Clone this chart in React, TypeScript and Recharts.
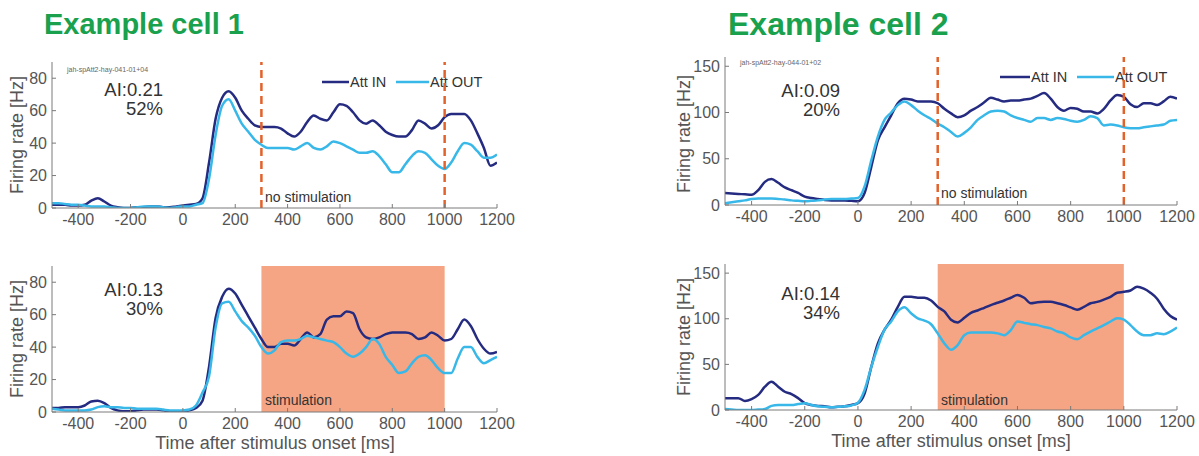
import React from 'react'
import { ComposedChart, Line, XAxis, YAxis, ReferenceLine, ReferenceArea } from 'recharts'

// time grid, ms after stimulus onset
const TIMES = [
  -500, -475, -450, -425, -400, -375, -350, -325, -300, -275,
  -250, -225, -200, -175, -150, -125, -100, -75, -50, -25,
  0, 25, 50, 75, 100, 125, 150, 175, 200, 225,
  250, 275, 300, 325, 350, 375, 400, 425, 450, 475,
  500, 525, 550, 575, 600, 625, 650, 675, 700, 725,
  750, 775, 800, 825, 850, 875, 900, 925, 950, 975,
  1000, 1025, 1050, 1075, 1100, 1125, 1150, 1175, 1200,
]

// cell 1, no stimulation
const cell1In = [
  2, 2, 2, 1.5, 1.5, 2, 4.5, 6, 4, 1.5,
  0.5, 0, 0, 0.5, 0.5, 1, 1, 0.5, 0.5, 1,
  1.5, 2, 2.5, 6, 28, 55, 68, 72, 68, 60,
  55, 51, 50, 50, 50, 49, 46, 44, 47, 53,
  57, 55, 54, 59, 64, 63, 59, 54, 52, 54,
  51, 47, 45, 44, 44, 48, 54, 52, 49, 51,
  56, 58, 58, 58, 54, 46, 37, 26, 28,
]
const cell1Out = [
  3, 3, 2.5, 2, 2, 1.5, 1, 1, 1, 0.5,
  0, 0, 0, 0.5, 1, 1, 1, 0.5, 0, 0.5,
  1, 1, 2, 3, 18, 45, 63, 67, 60, 52,
  47, 42, 39, 37, 37, 37, 37, 36, 38, 40,
  37, 36, 38, 41, 40, 38, 36, 34, 34, 35,
  32, 27, 22, 22, 27, 32, 35, 34, 30, 26,
  24, 28, 35, 40, 39, 35, 31, 31, 33,
]

// cell 1, stimulation
const cell1StimIn = [
  2.5, 2.5, 3, 3, 3, 4, 6.5, 7, 5.5, 2.5,
  1, 0.5, 0.5, 1, 1.5, 1.5, 1.5, 1, 0.5, 0.5,
  0.5, 1, 2.5, 7, 28, 58, 71, 76, 73, 66,
  59, 52, 45, 40, 40, 42, 42, 41, 45, 49,
  46, 48, 57, 59, 59, 62, 61, 51, 46, 45,
  46, 48, 49, 49, 49, 48, 45, 46, 49, 47,
  44, 45, 51, 57, 53, 45, 39, 36, 37,
]
const cell1StimOut = [
  2, 1.5, 1, 1, 1, 1, 1.5, 3, 3.5, 3,
  3, 2.5, 2.5, 2, 2, 2, 2, 1.5, 1, 1,
  1, 1.5, 4, 12, 22, 52, 67, 68, 62, 56,
  52, 47, 40, 36, 38, 43, 44, 44, 45, 47,
  46, 45, 44, 43, 40, 36, 34, 36, 40, 45,
  42, 34, 29, 24, 25, 30, 34, 35, 32, 27,
  24, 24, 33, 40, 40, 34, 30, 32, 34,
]

// cell 2, no stimulation
const cell2In = [
  13, 12.5, 12, 11.5, 11, 16, 25, 28, 24, 19,
  16, 13, 9, 7.5, 6.5, 5.5, 5, 5, 5, 4.5,
  4, 13, 41, 70, 84, 97, 110, 115, 114, 112,
  112, 112, 110, 104, 99, 95, 97, 102, 106, 111,
  116, 114, 112, 113, 113, 114, 115, 118, 121, 115,
  106, 102, 105, 104, 101, 101, 99, 104, 113, 119,
  117, 109, 106, 110, 110, 108, 112, 117, 115,
]
const cell2Out = [
  2, 3, 4, 5, 6.5, 7, 7, 7, 6.5, 6,
  5, 4.5, 4, 4.5, 5, 6, 6.5, 6.5, 6.5, 7,
  7.5, 20, 48, 74, 92, 100, 108, 112, 108, 102,
  97, 93, 88, 84, 79, 74, 78, 84, 92, 97,
  101, 102, 101, 97, 94, 92, 90, 94, 94, 92,
  94, 93, 91, 90, 92, 96, 94, 86, 87, 86,
  84, 83, 83, 84, 85, 86, 87, 91, 92,
]

// cell 2, stimulation
const cell2StimIn = [
  13, 13, 13, 10, 12, 16.5, 25.5, 31, 25.5, 20,
  17.5, 13, 7.5, 5.5, 4.5, 4, 3, 3.5, 4, 5.5,
  7.5, 18, 47, 73, 88, 99, 113, 124, 124, 123,
  123, 120, 113, 108, 99, 96, 101, 106.5, 109, 112,
  115, 117.5, 120, 123, 126, 123, 117, 118, 118.5, 118.5,
  117, 115, 112.5, 110, 113, 117, 118.5, 121, 124, 128.5,
  129.5, 131, 135, 133, 128.5, 122, 111, 103, 99,
]
const cell2StimOut = [
  1, 0.5, 0, 0, 0, 0.5, 1, 4.5, 5.5, 5.5,
  5.5, 6.5, 7.5, 5.5, 4, 3.5, 3, 3.5, 4, 5,
  8, 22, 47, 69, 88, 97, 108, 112.5, 106, 100.5,
  98, 94, 84, 73, 66, 71, 82, 85, 85, 85,
  85, 84, 82, 87.5, 97, 95.5, 94, 93, 91, 89.5,
  86, 84, 79.5, 77.5, 82, 86, 89.5, 93, 97, 100.5,
  99, 93, 86, 82, 82, 84, 83, 86, 90.5,
]

const X_TICKS = [-400, -200, 0, 200, 400, 600, 800, 1000, 1200]
const Y_TICKS_CELL1 = [0, 20, 40, 60, 80]
const Y_TICKS_CELL2 = [0, 50, 100, 150]

const FONT = '"Liberation Sans", Arial, Helvetica, sans-serif'
const IN_COLOR = '#242b80'
const OUT_COLOR = '#38b8e8'
const STIM_COLOR = '#f5a583'
const DASH_COLOR = '#e2622b'
const AXIS_COLOR = '#7a7a7a'
const TICK_TEXT = '#555'
const TITLE_GREEN = '#1aa14e'

function Panel({ left, top, width, height, marginTop, marginRight, yMax, yTicks, attIn, attOut, stimulated }: any) {
  const data = TIMES.map((t, i) => ({ t, attIn: attIn[i], attOut: attOut[i] }))
  return (
    <div style={{ position: 'absolute', left, top, zIndex: 1 }}>
      <ComposedChart
        width={width}
        height={height}
        data={data}
        margin={{ top: marginTop, right: marginRight, left: 0, bottom: 0 }}
      >
        {stimulated && (
          <ReferenceArea x1={300} x2={1000} y1={0} y2={yMax} fill={STIM_COLOR} fillOpacity={1} stroke="none" />
        )}
        <XAxis
          dataKey="t"
          type="number"
          domain={[-500, 1200]}
          ticks={X_TICKS}
          height={32}
          tickSize={-4}
          tickMargin={10}
          axisLine={{ stroke: AXIS_COLOR }}
          tickLine={{ stroke: AXIS_COLOR }}
          tick={{ fill: TICK_TEXT, fontSize: 16, fontFamily: FONT }}
          interval={0}
          allowDataOverflow
        />
        <YAxis
          type="number"
          domain={[0, yMax]}
          ticks={yTicks}
          width={52}
          tickSize={-4}
          tickMargin={9}
          axisLine={{ stroke: AXIS_COLOR }}
          tickLine={{ stroke: AXIS_COLOR }}
          tick={{ fill: TICK_TEXT, fontSize: 16, fontFamily: FONT }}
          interval={0}
          allowDataOverflow
        />
        <Line
          type="monotone"
          dataKey="attIn"
          stroke={IN_COLOR}
          strokeWidth={2.5}
          dot={false}
          activeDot={false}
          isAnimationActive={false}
        />
        <Line
          type="monotone"
          dataKey="attOut"
          stroke={OUT_COLOR}
          strokeWidth={2.5}
          dot={false}
          activeDot={false}
          isAnimationActive={false}
        />
        {!stimulated && (
          <ReferenceLine x={300} stroke={DASH_COLOR} strokeWidth={2.5} strokeDasharray="8 5" />
        )}
        {!stimulated && (
          <ReferenceLine x={1000} stroke={DASH_COLOR} strokeWidth={2.5} strokeDasharray="8 5" />
        )}
      </ComposedChart>
    </div>
  )
}

function Legend({ x, y, seg1, seg2 }: any) {
  // MATLAB style legend: line segment followed by label
  return (
    <g>
      <line x1={x} x2={x + seg1} y1={y} y2={y} stroke={IN_COLOR} strokeWidth={2.5} />
      <text x={x + seg1 + 1} y={y + 5} fontSize={14.5} fill="#333">Att IN</text>
      <line x1={x + seg1 + 47} x2={x + seg1 + 47 + seg2} y1={y} y2={y} stroke={OUT_COLOR} strokeWidth={2.5} />
      <text x={x + seg1 + 48 + seg2} y={y + 5} fontSize={14.5} fill="#333">Att OUT</text>
    </g>
  )
}

function AiNote({ x, y, ai, pct }: any) {
  return (
    <g fontSize={18.5} fill="#333" textAnchor="end">
      <text x={x} y={y}>{ai}</text>
      <text x={x} y={y + 19}>{pct}</text>
    </g>
  )
}

export default function App() {
  return (
    <div style={{ position: 'absolute', left: 0, top: 0, width: 1199, height: 456, background: '#fff', fontFamily: FONT }}>
      <svg width={1199} height={456} style={{ position: 'absolute', left: 0, top: 0, zIndex: 0 }} fontFamily={FONT}>
        <text x={44} y={34} fontSize={29} fontWeight="bold" fill={TITLE_GREEN}>Example cell 1</text>
        <text x={728} y={35} fontSize={32} fontWeight="bold" fill={TITLE_GREEN}>Example cell 2</text>

        <text x={67} y={72} fontSize={7} fill="#666">jah-spAtt2-hay-041-01+04</text>
        <text x={740} y={65} fontSize={7} fill="#666">jah-spAtt2-hay-044-01+02</text>

        <AiNote x={163} y={96} ai="AI:0.21" pct="52%" />
        <AiNote x={163} y={296} ai="AI:0.13" pct="30%" />
        <AiNote x={840} y={97} ai="AI:0.09" pct="20%" />
        <AiNote x={840} y={300} ai="AI:0.14" pct="34%" />

        <Legend x={322} y={82} seg1={27} seg2={33} />
        <Legend x={1000} y={77} seg1={30} seg2={37} />

        <text x={265} y={202} fontSize={14} fill="#333">no stimulation</text>
        <text x={941} y={198} fontSize={14} fill="#333">no stimulation</text>

        {[135, 339].map((cy) => (
          <text key={'l' + cy} x={0} y={0} fontSize={18} fill={TICK_TEXT} textAnchor="middle" transform={`translate(23 ${cy}) rotate(-90)`}>
            Firing rate [Hz]
          </text>
        ))}
        {[134, 337].map((cy) => (
          <text key={'r' + cy} x={0} y={0} fontSize={18} fill={TICK_TEXT} textAnchor="middle" transform={`translate(690 ${cy}) rotate(-90)`}>
            Firing rate [Hz]
          </text>
        ))}

        <text x={275} y={449} fontSize={18} fill={TICK_TEXT} textAnchor="middle">Time after stimulus onset [ms]</text>
        <text x={951} y={447} fontSize={18} fill={TICK_TEXT} textAnchor="middle">Time after stimulus onset [ms]</text>
      </svg>

      <Panel left={0} top={0} width={530} height={240} marginTop={62} marginRight={33} yMax={90} yTicks={Y_TICKS_CELL1} attIn={cell1In} attOut={cell1Out} stimulated={false} />
      <Panel left={0} top={204} width={530} height={240} marginTop={62} marginRight={33} yMax={90} yTicks={Y_TICKS_CELL1} attIn={cell1StimIn} attOut={cell1StimOut} stimulated />
      <Panel left={673} top={0} width={526} height={237} marginTop={57} marginRight={22} yMax={160} yTicks={Y_TICKS_CELL2} attIn={cell2In} attOut={cell2Out} stimulated={false} />
      <Panel left={673} top={207} width={526} height={235} marginTop={57} marginRight={22} yMax={160} yTicks={Y_TICKS_CELL2} attIn={cell2StimIn} attOut={cell2StimOut} stimulated />

      <svg width={1199} height={456} style={{ position: 'absolute', left: 0, top: 0, zIndex: 2, pointerEvents: 'none' }} fontFamily={FONT}>
        <text x={265} y={405} fontSize={14} fill="#333">stimulation</text>
        <text x={941} y={405} fontSize={14} fill="#333">stimulation</text>
      </svg>
    </div>
  )
}
